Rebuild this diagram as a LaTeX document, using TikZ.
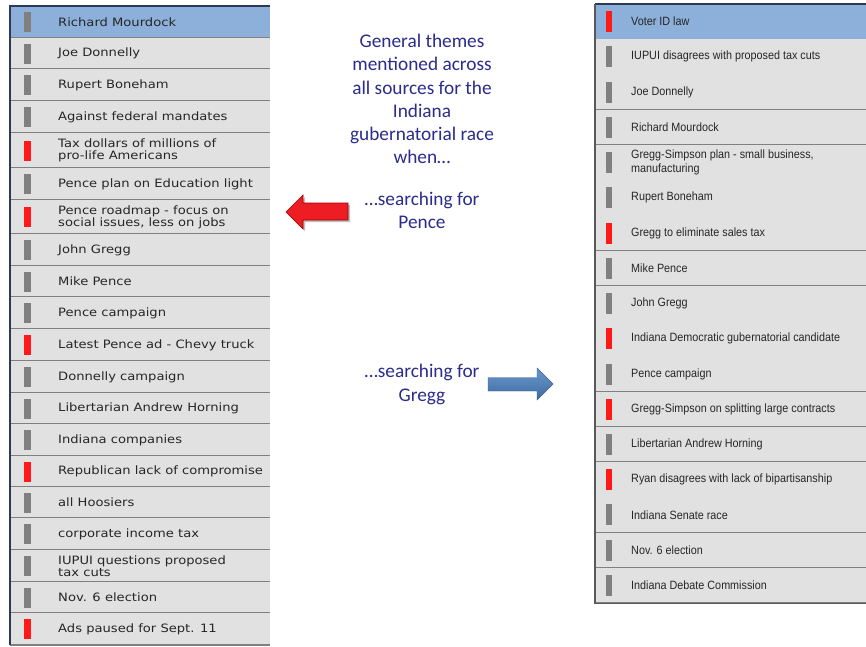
\documentclass[tikz,border=0pt]{standalone}
\usepackage{fontspec}
\setmainfont{Carlito}
\newfontfamily\lfont[FakeStretch=1.14]{DejaVu Sans}
\newfontfamily\rfont[FakeStretch=0.9]{Liberation Sans}
\definecolor{hdrblue}{HTML}{8CB0DA}
\definecolor{rowgrey}{HTML}{E1E1E1}
\definecolor{sepgrey}{HTML}{808080}
\definecolor{bargrey}{HTML}{808080}
\definecolor{barred}{HTML}{FF1A1A}
\definecolor{navytext}{HTML}{2B2C8C}
\definecolor{edgenavy}{HTML}{2C3A55}
\definecolor{arrred}{HTML}{EE1D23}
\definecolor{arrblue}{HTML}{4F86C6}
\begin{document}
\begin{tikzpicture}[x=1pt,y=-1pt,
  ltext/.style={anchor=west,inner sep=0pt,align=left,text=black!85,font=\lfont\fontsize{11.5}{12.3}\selectfont},
  rtext/.style={anchor=west,inner sep=0pt,align=left,text=black!85,font=\rfont\fontsize{12}{13.5}\selectfont},
  ctext/.style={align=center,text=navytext,inner sep=0pt,font=\fontsize{19.3}{23.2}\selectfont},
  sep/.style={draw=sepgrey,line width=1.3pt}]
\useasboundingbox (0,0) rectangle (866,646);
\fill[white] (0,0) rectangle (866,646);
% ---------- left list ----------
\foreach \i/\t/\b/\c/\txt in {
 1/6/38/bargrey/{Richard Mourdock},
 2/38/69/bargrey/{Joe Donnelly},
 3/69/101/bargrey/{Rupert Boneham},
 4/101/133/bargrey/{Against federal mandates},
 5/133/168/barred/{Tax dollars of millions of\\pro-life Americans},
 6/168/200/bargrey/{Pence plan on Education light},
 7/200/234/barred/{Pence roadmap - focus on\\social issues, less on jobs},
 8/234/266/bargrey/{John Gregg},
 9/266/297/bargrey/{Mike Pence},
 10/297/329/bargrey/{Pence campaign},
 11/329/361/barred/{Latest Pence ad - Chevy truck},
 12/361/393/bargrey/{Donnelly campaign},
 13/393/424/bargrey/{Libertarian Andrew Horning},
 14/424/456/bargrey/{Indiana companies},
 15/456/487/barred/{Republican lack of compromise},
 16/487/518/bargrey/{all Hoosiers},
 17/518/550/bargrey/{corporate income tax},
 18/550/582/bargrey/{IUPUI questions proposed\\tax cuts},
 19/582/613/bargrey/{Nov. 6 election},
 20/613/645/barred/{Ads paused for Sept. 11}}{
  \pgfmathsetmacro{\m}{(\t+\b)/2}
  \ifnum\i=1 \fill[hdrblue] (10,\t) rectangle (270,\b);
  \else \fill[rowgrey] (10,\t) rectangle (270,\b); \fi
  \draw[sep] (10,\b) -- (270,\b);
  \fill[\c] (24,\m-10) rectangle (31,\m+10);
  \node[ltext] (L\i) at (58,\m) {\txt};
}
\draw[edgenavy,line width=1.3pt] (270,6) -- (10,6) -- (10,645);
% ---------- right list ----------
\foreach \i/\c/\txt in {
 1/barred/{Voter ID law},
 2/bargrey/{IUPUI disagrees with proposed tax cuts},
 3/bargrey/{Joe Donnelly},
 4/bargrey/{Richard Mourdock},
 5/bargrey/{Gregg-Simpson plan - small business,\\manufacturing},
 6/bargrey/{Rupert Boneham},
 7/barred/{Gregg to eliminate sales tax},
 8/bargrey/{Mike Pence},
 9/bargrey/{John Gregg},
 10/barred/{Indiana Democratic gubernatorial candidate},
 11/bargrey/{Pence campaign},
 12/barred/{Gregg-Simpson on splitting large contracts},
 13/bargrey/{Libertarian Andrew Horning},
 14/barred/{Ryan disagrees with lack of bipartisanship},
 15/bargrey/{Indiana Senate race},
 16/bargrey/{Nov. 6 election},
 17/bargrey/{Indiana Debate Commission}}{
  \pgfmathsetmacro{\t}{4+(\i-1)*35.24}
  \pgfmathsetmacro{\b}{4+\i*35.24}
  \pgfmathsetmacro{\m}{(\t+\b)/2}
  \ifnum\i=1 \fill[hdrblue] (595,\t) rectangle (866,\b);
  \else \fill[rowgrey] (595,\t) rectangle (866,\b); \fi
  \draw[sep] (595,\b) -- (866,\b);
  \fill[\c] (606,\m-10.5) rectangle (612,\m+10.5);
  \node[rtext] (R\i) at (631,\m) {\txt};
}
\draw[edgenavy,line width=1.3pt] (866,4) -- (595,4);
\draw[black!65,line width=1.2pt] (595,4) -- (595,603.1) -- (866,603.1);
% ---------- centre texts ----------
\node[ctext] (title) at (422,99) {General themes\\mentioned across\\all sources for the\\Indiana\\gubernatorial race\\when\ldots};
\node[ctext] (pence) at (422,210) {\ldots searching for\\Pence};
\node[ctext] (gregg) at (422,384.5) {\ldots searching for\\Gregg};
% ---------- arrows ----------
\fill[black!25] (288,214) -- (305,197) -- (305,205) -- (350,205) -- (350,222) -- (305,222) -- (305,231) -- cycle;
\filldraw[fill=arrred,draw=red!60!black,line width=0.6pt] (286,212) -- (303,195) -- (303,203) -- (348,203) -- (348,220) -- (303,220) -- (303,229) -- cycle;
\shade[top color=arrblue!85!white,bottom color=arrblue!80!black,draw=arrblue!70!black,line width=0.4pt] (488,377.5) -- (537,377.5) -- (537,368) -- (553,384) -- (537,400) -- (537,391) -- (488,391) -- cycle;
\end{tikzpicture}
\end{document}
